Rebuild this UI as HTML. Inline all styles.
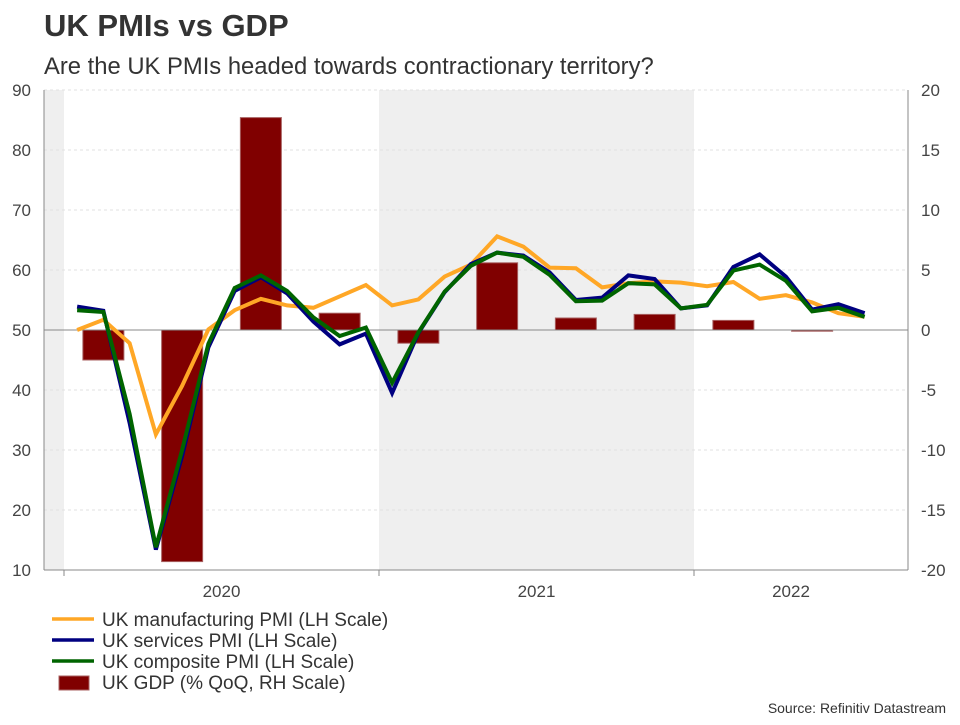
<!DOCTYPE html>
<html><head><meta charset="utf-8"><style>
body{margin:0;background:#fff;width:960px;height:720px;overflow:hidden;font-family:"Liberation Sans",sans-serif;}
</style></head><body>
<svg id="c" width="960" height="720" xmlns="http://www.w3.org/2000/svg">
<text x="44" y="36" font-size="31" font-weight="bold" fill="#333">UK PMIs vs GDP</text>
<text x="44" y="74" font-size="23.8" fill="#333">Are the UK PMIs headed towards contractionary territory?</text>
<g id="plot"></g>
<text x="946" y="713" font-size="14" fill="#333" text-anchor="end">Source: Refinitiv Datastream</text>
</svg>
<script>
const manuf=[50.0,51.7,47.8,32.6,40.7,50.1,53.3,55.2,54.1,53.7,55.6,57.5,54.1,55.1,58.9,60.9,65.6,63.9,60.4,60.3,57.1,57.8,58.1,57.9,57.3,58.0,55.2,55.8,54.6,52.8,52.2];
const services=[53.9,53.2,34.5,13.4,29.0,47.1,56.5,58.8,56.1,51.4,47.6,49.4,39.5,49.5,56.3,61.0,62.9,62.4,59.6,55.0,55.4,59.1,58.5,53.6,54.1,60.5,62.6,58.9,53.4,54.3,52.8];
const composite=[53.3,53.0,36.0,13.8,30.0,47.7,57.0,59.1,56.5,52.1,49.0,50.4,41.2,49.6,56.4,60.7,62.9,62.2,59.2,54.8,54.9,57.8,57.6,53.6,54.2,59.9,60.9,58.2,53.1,53.7,52.2];
const gdp=[-2.5,-19.3,17.7,1.4,-1.1,5.6,1.0,1.3,0.8,-0.1];
const leftTicks=[10,20,30,40,50,60,70,80,90];
const rightTicks=[-20,-15,-10,-5,0,5,10,15,20];
const years=["2020","2021","2022"];
const NS="http://www.w3.org/2000/svg";
const X0=64,MW=26.25,L=44,R=908,T=90,B=570;
const xm=i=>X0+(i+0.5)*MW;
const yl=v=>T+(90-v)*(B-T)/80;
const yr=v=>T+(20-v)*(B-T)/40;
const g=document.getElementById('plot');
function mk(tag,a,p){const e=document.createElementNS(NS,tag);for(const k in a)e.setAttribute(k,a[k]);(p||g).appendChild(e);return e;}
let e=mk('rect',{x:L,y:T,width:X0-L,height:B-T,fill:'#efefef'});


e=mk('rect',{x:X0+12*MW,y:T,width:12*MW,height:B-T,fill:'#efefef'});


leftTicks.forEach(v=>{
 if(v!==50&&v!==10){const l=mk('line',{x1:L,x2:R,y1:yl(v),y2:yl(v),stroke:'#e0e0e0','stroke-dasharray':'3,3'});
 
 }
 const t=mk('text',{x:31,y:yl(v)+6,'font-size':17,fill:'#444','text-anchor':'end'});t.textContent=v;
 
 
});
rightTicks.forEach(v=>{
 const t=mk('text',{x:921,y:yr(v)+6,'font-size':17,fill:'#444'});t.textContent=v;
 
 
});
gdp.forEach((v,q)=>{
 const cx=xm(q*3+1),y0=yr(0),y1=yr(v);
 const r=mk('rect',{x:cx-20.5,y:Math.min(y0,y1),width:41,height:Math.max(Math.abs(y1-y0),0.8),fill:'#800000',stroke:'#a86060','stroke-width':1});
 
 
});
e=mk('line',{x1:L,x2:R,y1:yr(0),y2:yr(0),stroke:'#888','stroke-width':1});


e=mk('line',{x1:L,x2:L,y1:T,y2:B,stroke:'#888'});


e=mk('line',{x1:R,x2:R,y1:T,y2:B,stroke:'#888'});


e=mk('line',{x1:L,x2:R,y1:B,y2:B,stroke:'#888'});


years.forEach((y,k)=>{
 const tx=X0+k*12*MW;
 const l=mk('line',{x1:tx,x2:tx,y1:B,y2:B+6,stroke:'#888'});
 
 
 const cx=k<2?tx+6*MW:(tx+R)/2-10;
 const t=mk('text',{x:cx,y:B+27,'font-size':17,fill:'#444','text-anchor':'middle'});t.textContent=y;
 
 
});
function line(arr,col,name){
 const p=mk('polyline',{points:arr.map((v,i)=>xm(i)+','+yl(v)).join(' '),fill:'none',stroke:col,'stroke-width':4,'stroke-linejoin':'miter'});
 
 
}
line(manuf,'#ffa726','manufacturing-line');
line(services,'#000080','services-line');
line(composite,'#006400','composite-line');
const leg=[['UK manufacturing PMI (LH Scale)','#ffa726','l'],['UK services PMI (LH Scale)','#000080','l'],['UK composite PMI (LH Scale)','#006400','l'],['UK GDP (% QoQ, RH Scale)','#800000','b']];
leg.forEach((d,i)=>{
 const y=619+i*21;
 if(d[2]==='l'){const l=mk('line',{x1:52,x2:94,y1:y,y2:y,stroke:d[1],'stroke-width':3.5});
 
 }
 else{const r=mk('rect',{x:59,y:y-6,width:30,height:14,fill:d[1],stroke:'#a86060'});
 
 }
 const t=mk('text',{x:102,y:y+7,'font-size':19,fill:'#333'});t.textContent=d[0];
 
 
});
</script>
</body></html>
